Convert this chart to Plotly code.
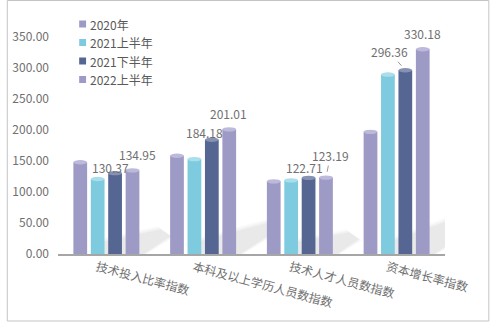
import plotly.graph_objects as go

# ---- data -------------------------------------------------------------
categories = ["技术投入比率指数", "本科及以上学历人员数指数", "技术人才人员数指数", "资本增长率指数"]
series_names = ["2020年", "2021上半年", "2021下半年", "2022上半年"]
v2020 = [148.0, 158.4, 117.2, 197.0]
v2021_h1 = [121.0, 153.0, 118.8, 289.4]
v2021_h2 = [130.37, 184.18, 122.71, 296.36]
v2022_h1 = [134.95, 201.01, 123.19, 330.18]
y_ticks = [0, 50, 100, 150, 200, 250, 300, 350]
labelled_series = [2, 3]          # series whose values are printed

series_values = [v2020, v2021_h1, v2021_h2, v2022_h1]

# ---- style ------------------------------------------------------------
FONT = "Noto Sans CJK SC, Noto Sans, sans-serif"
bar_colors = ["#9e9ac6", "#7ecbdf", "#566692", "#9e9ac6"]
cap_colors = ["#bdb9da", "#aadeec", "#8791b1", "#bdb9da"]
text_color = "#707070"

W, H = 490, 330
L, R, T, B = 52, 45, 20, 76
plot_w = W - L - R
plot_h = H - T - B
px_per_unit = 0.62
y_max = plot_h / px_per_unit
offsets = [-0.27, -0.09, 0.09, 0.27]
bar_w = 0.142
unit_px_x = plot_w / 4.0            # pixels per category


def px_x(p):
    return (p - L) / plot_w


def px_y(p):
    return (H - B - p) / plot_h


fig = go.Figure()
shapes = []
annotations = []

# soft diagonal floor shadow behind each group of cylinders
for gi in range(len(categories)):
    xr = gi + offsets[-1] + bar_w / 2          # right edge of the group
    h = max(v[gi] for v in series_values) * px_per_unit
    lx, ly = 0.34 * h, 0.2 * h
    for grow, op in [(3.5, 0.025), (2.0, 0.035), (0.5, 0.045)]:
        pts = [(-45 - grow, 0), (4 + grow, 0), (lx + grow, ly - grow * 0.5),
               (lx - 9 - grow, ly + 6 + grow), (-45 - grow, 10 + grow)]
        path = "M" + " L".join(f"{xr + px / unit_px_x},{max(py, 0) / px_per_unit}"
                               for px, py in pts) + " Z"
        shapes.append(dict(type="path", path=path, xref="x", yref="y",
                           fillcolor=f"rgba(40,40,40,{op})",
                           line=dict(width=0), layer="below"))

# cylinders: bar body plus elliptical cap
cap_half = 2.2 / px_per_unit
for si, (name, vals) in enumerate(zip(series_names, series_values)):
    xs = [gi + offsets[si] for gi in range(len(categories))]
    fig.add_trace(go.Bar(
        x=xs, y=vals, width=bar_w, name=name,
        marker=dict(color=bar_colors[si], line=dict(width=0)),
        showlegend=False, hoverinfo="y",
    ))
    for x, v in zip(xs, vals):
        shapes.append(dict(type="circle", xref="x", yref="y",
                           x0=x - bar_w / 2, x1=x + bar_w / 2,
                           y0=v - cap_half, y1=v + cap_half,
                           fillcolor=cap_colors[si], line=dict(width=0)))

# value labels: (series, group) -> (dx px, dy px, leader line)
label_pos = {
    (2, 0): (-4.7, -6, False), (3, 0): (4.7, -16, False),
    (2, 1): (-7.5, -7, False), (3, 1): (-0.7, -16, False),
    (2, 2): (-4.5, -10, False), (3, 2): (4.3, -22, True),
    (2, 3): (-16, -18.6, True), (3, 3): (0, -15.5, False),
}
for si in labelled_series:
    for gi, v in enumerate(series_values[si]):
        dx, dy, leader = label_pos[(si, gi)]
        a = dict(x=gi + offsets[si], y=v, xref="x", yref="y",
                 text=f"{v:.2f}", font=dict(family=FONT, size=12, color=text_color))
        if leader:
            a.update(showarrow=True, ax=dx, ay=dy, arrowhead=0, arrowwidth=1,
                     arrowcolor="#9a9a9a", standoff=6)
        else:
            a.update(showarrow=False, xshift=dx, yshift=-dy)
        annotations.append(a)

# legend drawn as small squares with text
legend_y = [24, 42.5, 61, 79.5]
for si, name in enumerate(series_names):
    cy = legend_y[si]
    shapes.append(dict(type="rect", xref="paper", yref="paper",
                       x0=px_x(73.5), x1=px_x(80.5), y0=px_y(cy + 3.5), y1=px_y(cy - 3.5),
                       fillcolor=bar_colors[si], line=dict(width=0)))
    annotations.append(dict(x=px_x(82), y=px_y(cy), xref="paper", yref="paper",
                            xanchor="left", yanchor="middle", showarrow=False,
                            text=name, font=dict(family=FONT, size=12, color="#595959")))

# outer frame
shapes.append(dict(type="rect", xref="paper", yref="paper",
                   x0=px_x(0.5), x1=px_x(489.5), y0=px_y(321), y1=px_y(0.5),
                   line=dict(color="#c4c4c4", width=1), fillcolor="rgba(0,0,0,0)",
                   layer="below"))

fig.update_layout(
    width=W, height=H,
    margin=dict(l=L, r=R, t=T, b=B, pad=0),
    paper_bgcolor="white", plot_bgcolor="white",
    barmode="overlay",
    font=dict(family=FONT, size=12, color=text_color),
    shapes=shapes, annotations=annotations,
    xaxis=dict(range=[-0.5, 3.5], tickvals=[gi - 0.1 for gi in range(len(categories))],
               ticktext=categories, tickangle=15, showgrid=False, zeroline=False,
               showline=True, linecolor="#a6a6a6", linewidth=2, ticks="",
               tickfont=dict(family=FONT, size=12, color=text_color)),
    yaxis=dict(range=[0, y_max], tickvals=y_ticks, tickformat=".2f",
               showgrid=False, zeroline=False, showline=False, ticks="",
               ticklabelstandoff=8,
               tickfont=dict(family=FONT, size=12, color=text_color)),
)

fig.write_html("out.html")
